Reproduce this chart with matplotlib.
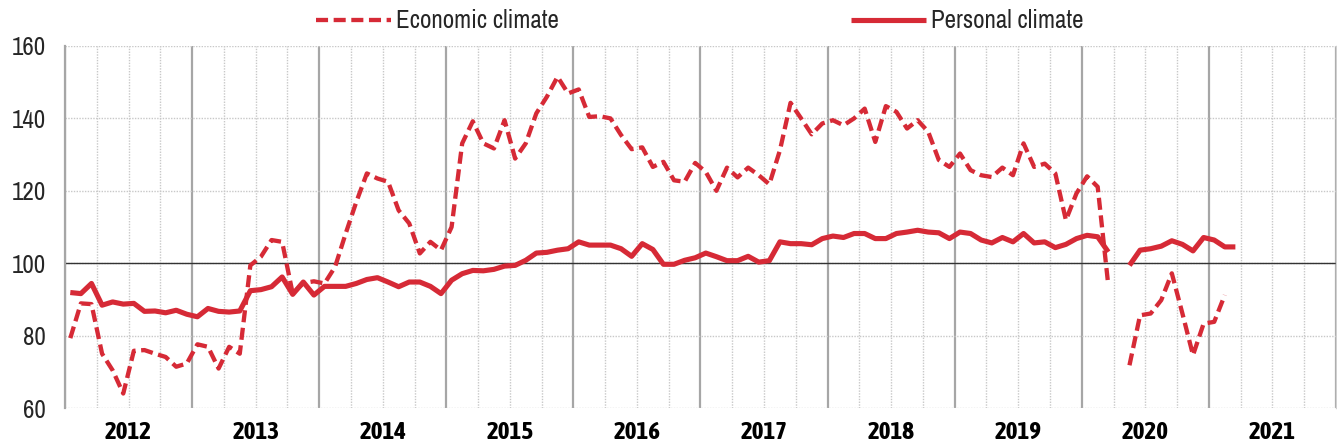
import numpy as np
import matplotlib
matplotlib.use("Agg")
import matplotlib.pyplot as plt
from matplotlib import font_manager

nan = np.nan

# monthly values, Jan 2012 onwards (April 2020 missing)
economic = [
    79.3, 88.9, 88.7, 75.0, 70.4, 64.0, 75.8, 76.0, 75.0, 74.1, 71.4, 72.3,   # 2012
    77.6, 76.9, 70.9, 76.9, 75.0, 99.4, 101.8, 106.4, 105.9, 91.6, 94.5, 95.0,  # 2013
    94.4, 99.0, 108.2, 116.9, 124.8, 123.4, 122.5, 114.6, 111.0, 102.7, 105.9, 103.6,  # 2014
    110.0, 133.1, 139.2, 133.1, 131.7, 139.5, 128.9, 133.1, 141.4, 146.0, 151.5, 146.9,  # 2015
    148.0, 140.4, 140.6, 140.0, 135.4, 131.5, 132.0, 126.6, 128.0, 122.9, 122.5, 127.7,  # 2016
    125.2, 120.0, 126.4, 123.7, 126.4, 124.3, 121.8, 131.2, 144.3, 140.0, 135.6, 138.6,  # 2017
    139.5, 138.1, 140.0, 142.7, 133.5, 143.4, 141.8, 137.2, 139.5, 136.3, 128.5, 126.6,  # 2018
    130.3, 125.7, 124.3, 123.8, 126.4, 124.3, 133.1, 126.6, 127.5, 124.8, 111.9, 119.3,  # 2019
    124.0, 121.1, 93.9, nan, 71.8, 85.6, 86.1, 89.8, 97.2, 86.1, 74.6, 83.3,  # 2020
    83.8, 91.2,  # 2021
]
personal = [
    91.9, 91.6, 94.4, 88.4, 89.3, 88.7, 88.9, 86.7, 86.8, 86.3, 87.0, 85.9,
    85.2, 87.5, 86.7, 86.5, 86.8, 92.4, 92.7, 93.5, 96.2, 91.4, 94.8, 91.2,
    93.6, 93.6, 93.6, 94.4, 95.5, 96.0, 94.8, 93.5, 94.8, 94.8, 93.6, 91.6,
    95.3, 97.1, 98.0, 97.9, 98.3, 99.2, 99.4, 100.8, 102.8, 103.0, 103.6, 104.0,
    105.9, 105.0, 105.0, 105.0, 104.0, 101.9, 105.4, 103.8, 99.7, 99.7, 100.8, 101.5,
    102.8, 101.8, 100.7, 100.7, 101.9, 100.3, 100.7, 105.9, 105.4, 105.4, 105.1, 106.8,
    107.5, 107.1, 108.2, 108.2, 106.8, 106.8, 108.2, 108.6, 109.1, 108.6, 108.4, 106.8,
    108.6, 108.2, 106.4, 105.6, 107.1, 105.9, 108.2, 105.6, 105.9, 104.3, 105.2, 106.8,
    107.7, 107.3, 103.1, nan, 99.4, 103.6, 104.0, 104.7, 106.2, 105.2, 103.4, 107.1,
    106.4, 104.5, 104.5,
]
years = list(range(2012, 2022))
yticks = [60, 80, 100, 120, 140, 160]

# condensed fonts, close to Arial Narrow
names = {f.name for f in font_manager.fontManager.ttflist}
narrow = "Archivo Narrow" if "Archivo Narrow" in names else "Liberation Sans"
narrow_bold = "Asap Condensed" if "Asap Condensed" in names else "Liberation Sans"
plt.rcParams["font.family"] = [narrow, "DejaVu Sans"]

red = "#d62a36"

x_eco = 2012 + (np.arange(len(economic)) + 0.5) / 12
x_per = 2012 + (np.arange(len(personal)) + 0.5) / 12

fig = plt.figure(figsize=(13.37, 4.46), dpi=100)
ax = fig.add_axes([65 / 1337, 1 - 408 / 446, 1271 / 1337, 362 / 446])

# grid
ax.set_xlim(years[0], years[-1] + 1)
ax.set_ylim(yticks[0], yticks[-1])
ax.set_xticks(np.arange(years[0], years[-1] + 1.01, 0.25), minor=True)
ax.set_xticks(years + [years[-1] + 1])
ax.set_yticks(yticks)
ax.grid(which="minor", axis="x", color="#c8c8c8", lw=1.0, ls=(0, (1, 1)))
ax.grid(which="major", axis="x", color="#a6a6a6", lw=1.6, ls="-")
ax.grid(which="major", axis="y", color="#c8c8c8", lw=1.0, ls=(0, (1, 1)))
ax.axhline(100, color="#333333", lw=1.0, zorder=2)
ax.set_axisbelow(True)

ax.plot(x_eco, economic, color=red, lw=3.1, dashes=(2.8, 1.3),
        dash_capstyle="butt", label="Economic climate", zorder=3)
ax.plot(x_per, personal, color=red, lw=3.7, solid_capstyle="butt",
        solid_joinstyle="round", label="Personal climate", zorder=4)

for s in ["top", "bottom"]:
    ax.spines[s].set_visible(False)
ax.spines["left"].set_color("#a6a6a6")
ax.spines["left"].set_linewidth(1.6)
ax.spines["right"].set_color("#d0d0d0")
ax.spines["right"].set_linewidth(1.0)

ax.tick_params(axis="both", which="both", length=0)
ax.set_xticklabels([])
ax.tick_params(axis="y", labelsize=18, pad=14, labelcolor="#262626")

for yr in years:
    ax.text(yr + 0.5, -0.035, str(yr), transform=ax.get_xaxis_transform(),
            ha="center", va="top", fontsize=18, fontweight="bold", color="black",
            family=[narrow_bold, "DejaVu Sans"])

fig.legend(loc="center", bbox_to_anchor=(0.5236, 0.953), ncol=2, frameon=False,
           fontsize=18, handlelength=3.0, handletextpad=0.2, columnspacing=11.7,
           labelcolor="#262626")

fig.savefig("out.png", dpi=100)
